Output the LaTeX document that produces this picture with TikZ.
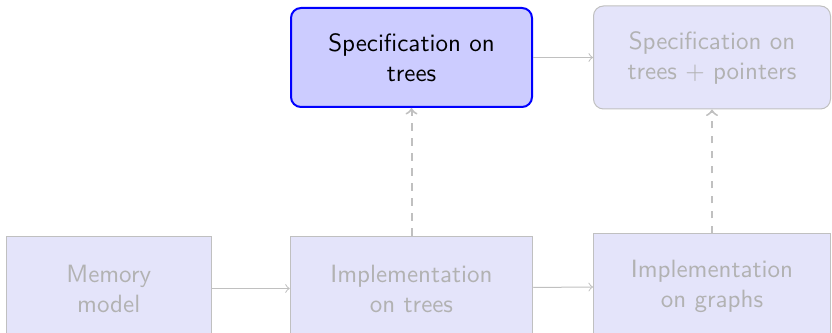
\documentclass[tikz,border=0pt]{standalone}
\usepackage{tikz}
\usetikzlibrary{positioning}

\definecolor{fadeFill}{RGB}{228,228,250}
\definecolor{fadeLine}{RGB}{192,192,192}
\definecolor{fadeText}{RGB}{178,178,178}

\begin{document}
\begin{tikzpicture}[font = \sffamily]
        \useasboundingbox (0pt, 0pt) rectangle (332.8pt, -133.2pt);
        \clip (0pt, 0pt) rectangle (332.8pt, -133.2pt);

        \node[rectangle, draw = blue, thick, rounded corners = 4pt, fill = blue!20, align = center, minimum width = 96.4pt, minimum height = 39.6pt] (specTreeNode) at (164.6pt, -23pt) {Specification on\\trees};
        \node[rectangle, draw = fadeLine, rounded corners = 4pt, fill = fadeFill, text = fadeText, align = center, minimum width = 94.8pt, minimum height = 41.2pt] (specPtrNode) [right = 24pt of specTreeNode] {Specification on\\trees + pointers};
        \node[rectangle, draw = fadeLine, fill = fadeFill, text = fadeText, align = center, minimum width = 97pt, minimum height = 41.6pt] (implTreeNode) [below = 51.2pt of specTreeNode] {Implementation\\on trees};
        \node[rectangle, draw = fadeLine, fill = fadeFill, text = fadeText, align = center, minimum width = 82pt, minimum height = 41.6pt] (memNode) [left = 31.2pt of implTreeNode] {Memory\\model};
        \node[rectangle, draw = fadeLine, fill = fadeFill, text = fadeText, align = center, minimum width = 94.8pt, minimum height = 41.6pt] (implGraphNode) [below = 49.6pt of specPtrNode] {Implementation\\on graphs};

        \draw (specTreeNode) edge[->, fadeLine] (specPtrNode);
        \draw (memNode) edge[->, fadeLine] (implTreeNode);
        \draw (implTreeNode) edge[->, fadeLine] (implGraphNode);
        \draw (implTreeNode) edge[->, dashed, thick, fadeLine] (specTreeNode);
        \draw (implGraphNode) edge[->, dashed, thick, fadeLine] (specPtrNode);
      \end{tikzpicture}
\end{document}
